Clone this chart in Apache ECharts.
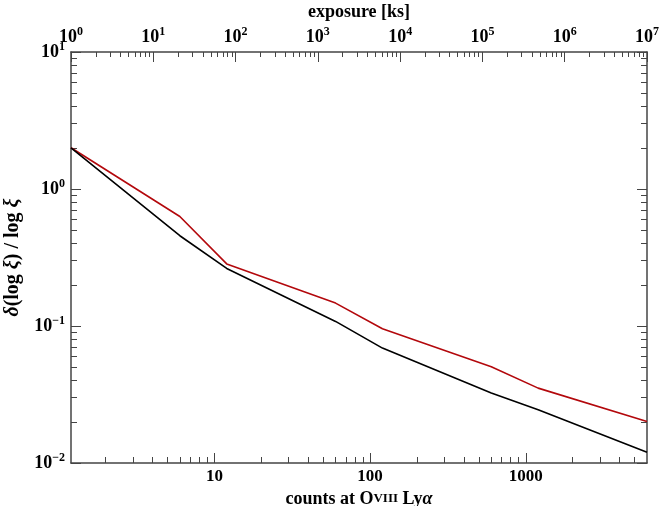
<!DOCTYPE html>
<html>
<head>
<meta charset="utf-8">
<script src="https://cdn.jsdelivr.net/npm/echarts@6/dist/echarts.min.js"></script>
<style>
  html, body { margin: 0; padding: 0; background: #fff; }
  #chart { width: 660px; height: 506px; }
</style>
</head>
<body>
<div id="chart"></div>
<script>
// counts at O VIII Ly-alpha (x) and relative error of log xi (y)
const counts = [1.2, 6, 12, 60, 120, 600, 1200, 6000];
const redErr = [2.0, 0.63, 0.284, 0.147, 0.0955, 0.0505, 0.0352, 0.0201];
const blackErr = [2.0, 0.456, 0.263, 0.108, 0.069, 0.0324, 0.0245, 0.012];

// tick values
const countMajor = [10, 100, 1000];
const exposureMajor = [1, 10, 100, 1000, 10000, 100000, 1000000, 10000000];
const errMajor = [0.01, 0.1, 1, 10];
const mantissa = [2, 3, 4, 5, 6, 7, 8, 9];

// minor ticks 2..9 in each decade
const minorTicks = (decades, lo, hi) => {
  const out = [];
  decades.forEach(d => mantissa.forEach(m => {
    const v = +(m * d).toPrecision(6);
    if (v > lo && v < hi) out.push(v);
  }));
  return out;
};
const countMinor = minorTicks([1, 10, 100, 1000], 1.2, 6000);
const exposureMinor = minorTicks(exposureMajor.slice(0, 7), 1, 1e7);
const errMinor = minorTicks([0.01, 0.1, 1], 0.01, 10);

const font = 'Liberation Serif';
const axisColor = '#444';

const powLabel = v => {
  const e = Math.round(Math.log10(v));
  return '{b|10}{s|' + (e < 0 ? '\u2212' + (-e) : e) + '}';
};
const powRich = {
  b: { fontSize: 18, fontWeight: 'bold', fontFamily: font, color: '#000', lineHeight: 22 },
  s: { fontSize: 12, fontWeight: 'bold', fontFamily: font, color: '#000', lineHeight: 12, verticalAlign: 'top' }
};

const minorAxis = (pos, min, max, ticks, len) => ({
  type: 'log', logBase: 10, position: pos, min: min, max: max,
  axisLine: { show: true, onZero: false, lineStyle: { color: axisColor, width: 1.5 } },
  axisTick: { show: true, inside: true, length: len, customValues: ticks, lineStyle: { color: axisColor, width: 1 } },
  axisLabel: { show: false },
  splitLine: { show: false },
  minorTick: { show: false }
});

const majorAxis = (pos, min, max, ticks, label) => ({
  type: 'log', logBase: 10, position: pos, min: min, max: max,
  axisLine: { show: false, onZero: false },
  axisTick: { show: true, inside: true, length: 10, customValues: ticks, lineStyle: { color: axisColor, width: 1 } },
  axisLabel: label ? Object.assign({ customValues: ticks }, label) : { show: false },
  splitLine: { show: false }
});

const chart = echarts.init(document.getElementById('chart'));

const option = {
  backgroundColor: '#fff',
  animation: false,
  grid: { left: 71, right: 13, top: 52, bottom: 43, outerBoundsMode: 'none', containLabel: false },
  xAxis: [
    minorAxis('bottom', 1.2, 6000, countMinor, 6),
    Object.assign(majorAxis('bottom', 1.2, 6000, countMajor, {
      margin: 5, fontSize: 17, fontWeight: 'bold', fontFamily: font, color: '#000',
      formatter: v => String(Math.round(v))
    }), {
      name: '{n|counts at O}{sc|VIII}{n| Ly}{i|\u03b1}',
      nameLocation: 'middle', nameGap: 20,
      nameTextStyle: {
        rich: {
          n: { fontSize: 18, fontWeight: 'bold', fontFamily: font, color: '#000' },
          sc: { fontSize: 13, fontWeight: 'bold', fontFamily: font, color: '#000' },
          i: { fontSize: 18, fontWeight: 'bold', fontStyle: 'italic', fontFamily: font, color: '#000' }
        }
      }
    }),
    minorAxis('top', 1, 1e7, exposureMinor, 5),
    Object.assign(majorAxis('top', 1, 1e7, exposureMajor, {
      margin: 4, formatter: powLabel, rich: powRich
    }), {
      name: 'exposure [ks]', nameLocation: 'middle', nameGap: 30,
      nameTextStyle: { fontSize: 18, fontWeight: 'bold', fontFamily: font, color: '#000' }
    })
  ],
  yAxis: [
    minorAxis('left', 0.01, 10, errMinor, 6),
    Object.assign(majorAxis('left', 0.01, 10, errMajor, {
      margin: 6, formatter: powLabel, rich: powRich
    }), {
      name: '{i|\u03b4}{n|(log }{i|\u03be}{n|) / log }{i|\u03be}',
      nameLocation: 'middle', nameGap: 37, nameRotate: 90,
      nameTextStyle: {
        rich: {
          n: { fontSize: 20, fontWeight: 'bold', fontFamily: font, color: '#000' },
          i: { fontSize: 20, fontWeight: 'bold', fontStyle: 'italic', fontFamily: font, color: '#000' }
        }
      }
    }),
    minorAxis('right', 0.01, 10, errMinor, 6),
    majorAxis('right', 0.01, 10, errMajor, null)
  ],
  series: [
    {
      type: 'line', xAxisIndex: 0, yAxisIndex: 0,
      data: counts.map((c, i) => [c, blackErr[i]]),
      symbol: 'none', lineStyle: { color: '#000', width: 1.6 }, z: 3
    },
    {
      type: 'line', xAxisIndex: 0, yAxisIndex: 0,
      data: counts.map((c, i) => [c, redErr[i]]),
      symbol: 'none', lineStyle: { color: '#b3080c', width: 1.6 }, z: 2
    }
  ]
};

chart.setOption(option);
</script>
</body>
</html>
